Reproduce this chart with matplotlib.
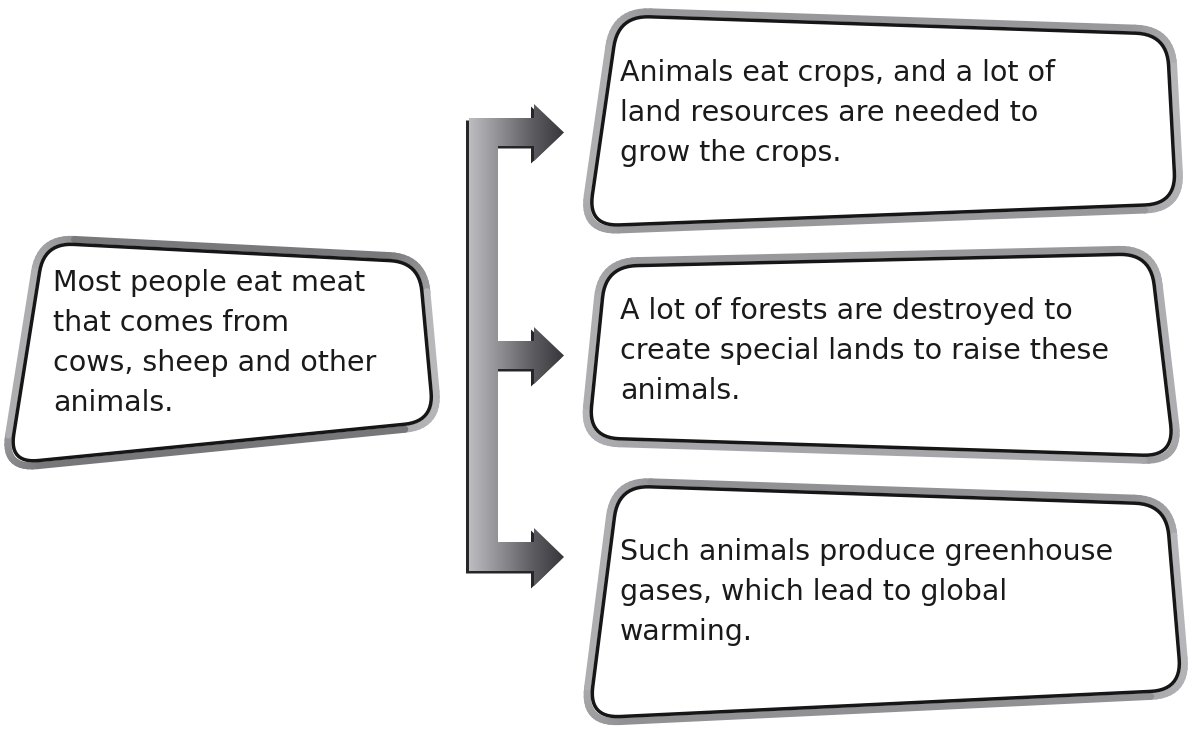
import numpy as np
import matplotlib
matplotlib.use('Agg')
import matplotlib.pyplot as plt
from matplotlib.collections import LineCollection
from matplotlib.patches import Polygon
from matplotlib.colors import LinearSegmentedColormap

# texts
cause_lines = ["Most people eat meat", "that comes from",
               "cows, sheep and other", "animals."]
effect_lines = [
    ["Animals eat crops, and a lot of", "land resources are needed to", "grow the crops."],
    ["A lot of forests are destroyed to", "create special lands to raise these", "animals."],
    ["Such animals produce greenhouse", "gases, which lead to global", "warming."],
]

# layout (pixel coords, y down)
W, H = 1193, 731
cause_box = [(37, 234), (427, 254), (443, 429), (-1, 473)]
effect_boxes = [
    [(611, 7), (1175, 26), (1185, 212), (578, 235)],
    [(598, 258), (1158, 245), (1184, 465), (579, 446)],
    [(611, 477), (1174, 496), (1191, 698), (579, 727)],
]
cause_xy = (53, 291)
effect_xy = [(620, 81), (620, 319), (620, 560)]
line_gap = 40
font_size = 20.5

# bracket arrow
bar_l, bar_r, head_x, tip_x = 469, 498, 534, 564
arms = [(118, 146, 104, 161), (341, 369, 327, 384), (542, 571, 528, 586)]

PX = 0.72  # px -> pt at dpi 100


def inset(pts, d):
    pts = np.asarray(pts, float)
    c = pts.mean(axis=0)
    n = len(pts)
    lines = []
    for i in range(n):
        p, q = pts[i], pts[(i + 1) % n]
        e = (q - p) / np.linalg.norm(q - p)
        nrm = np.array([-e[1], e[0]])
        if np.dot(c - p, nrm) < 0:
            nrm = -nrm
        lines.append((p + nrm * d, e))
    out = []
    for i in range(n):
        (p1, e1), (p2, e2) = lines[i - 1], lines[i]
        t, s = np.linalg.solve(np.array([e1, -e2]).T, p2 - p1)
        out.append(p1 + t * e1)
    return np.array(out)


def rounded(pts, r, k=14):
    pts = np.asarray(pts, float)
    n = len(pts)
    out = []
    for i in range(n):
        c = pts[i]
        a = c + (pts[i - 1] - c) / np.linalg.norm(pts[i - 1] - c) * r
        b = c + (pts[(i + 1) % n] - c) / np.linalg.norm(pts[(i + 1) % n] - c) * r
        t = np.linspace(0, 1, k)[:, None]
        out.append((1 - t) ** 2 * a + 2 * (1 - t) * t * c + t ** 2 * b)
    return np.vstack(out)


def draw_box(ax, corners, r=40):
    outer = rounded(inset(corners, 3.5), r - 3.5)
    inner = rounded(inset(corners, 8.5), r - 8.5)
    ax.add_patch(Polygon(rounded(corners, r), closed=True, fc='white', ec='none', zorder=1))
    # grey bevel band, shade varies along the outline
    ring = np.vstack([outer, outer[:1]])
    segs = np.stack([ring[:-1], ring[1:]], axis=1)
    seglen = np.linalg.norm(ring[1:] - ring[:-1], axis=1)
    s = np.cumsum(seglen) / seglen.sum()
    g = 0.5 + 0.22 * np.cos(2 * np.pi * 2 * s + 0.6)
    cols = [(v, v, min(v * 1.02, 1)) for v in g]
    ax.add_collection(LineCollection(segs, colors=cols, linewidths=7 * PX,
                                     capstyle='round', zorder=2))
    ax.add_patch(Polygon(inner, closed=True, fill=False, ec='#161616',
                         lw=3.5 * PX, joinstyle='round', zorder=3))


fig = plt.figure(figsize=(W / 100, H / 100), dpi=100)
ax = fig.add_axes([0, 0, 1, 1])
ax.set_xlim(0, W)
ax.set_ylim(H, 0)
ax.axis('off')

draw_box(ax, cause_box, r=38)
for b in effect_boxes:
    draw_box(ax, b)

# text
tkw = dict(fontsize=font_size, family='DejaVu Sans', color='#1a1a1a', va='baseline', ha='left', zorder=5)
for i, t in enumerate(cause_lines):
    ax.text(cause_xy[0], cause_xy[1] + i * line_gap, t, **tkw)
for (x0, y0), lines in zip(effect_xy, effect_lines):
    for i, t in enumerate(lines):
        ax.text(x0, y0 + i * line_gap, t, **tkw)

# bracket arrow outline
verts = [(bar_l, arms[0][0])]
for k, (a_top, a_bot, h_top, h_bot) in enumerate(arms):
    if k > 0:
        verts.append((bar_r, a_top))
    verts += [(head_x, a_top), (head_x, h_top), (tip_x, (h_top + h_bot) / 2),
              (head_x, h_bot), (head_x, a_bot)]
    if k < len(arms) - 1:
        verts.append((bar_r, a_bot))
verts.append((bar_l, arms[-1][1]))
verts = np.array(verts, float)

ax.add_patch(Polygon(verts + [-3, 2.5], closed=True, fc='#262628', ec='none', zorder=2))
arrow = Polygon(verts, closed=True, fc='none', ec='none', zorder=3)
ax.add_patch(arrow)
cmap = LinearSegmentedColormap.from_list('steel', ['#bdbdc1', '#8e8e92', '#5e5e62', '#37373b'])
grad = np.linspace(0, 1, 256)[None, :]
im = ax.imshow(grad, extent=(bar_l, tip_x, 595, 95), cmap=cmap, aspect='auto', zorder=3,
               interpolation='bilinear')
im.set_clip_path(arrow)
ax.set_xlim(0, W)
ax.set_ylim(H, 0)

fig.savefig('out.png', dpi=100, facecolor='white')
